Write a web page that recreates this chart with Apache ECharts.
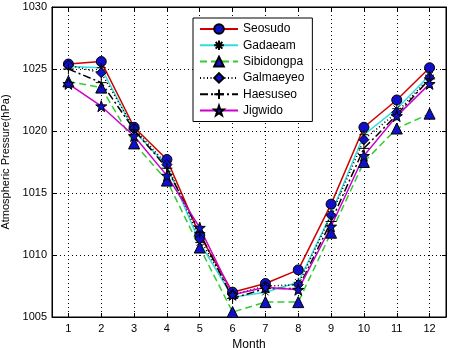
<!DOCTYPE html>
<html><head><meta charset="utf-8">
<script src="https://cdn.jsdelivr.net/npm/echarts@6/dist/echarts.min.js"></script>
<style>html,body{margin:0;padding:0;background:#fff}#c{width:450px;height:348px}</style>
</head><body><div id="c"></div>
<script>
const months = ['1','2','3','4','5','6','7','8','9','10','11','12'];
const yTicks = {min:1005, max:1030, interval:5};
const seosudo    = [1025.4, 1025.6, 1020.3, 1017.7, 1011.6, 1007.0, 1007.7, 1008.8, 1014.1, 1020.3, 1022.5, 1025.1];
const gadaeam    = [1025.2, 1025.1, 1020.0, 1017.2, 1011.0, 1006.6, 1007.0, 1007.8, 1013.3, 1019.7, 1021.8, 1024.5];
const sibidongpa = [1024.0, 1023.5, 1019.0, 1016.0, 1010.6, 1005.4, 1006.2, 1006.2, 1011.8, 1017.5, 1020.2, 1021.4];
const galmaeyeo  = [1025.3, 1024.7, 1020.2, 1017.3, 1011.3, 1006.8, 1007.5, 1007.6, 1013.2, 1019.3, 1021.5, 1024.3];
const haesuseo   = [1025.0, 1023.9, 1020.1, 1017.0, 1011.8, 1006.5, 1007.3, 1007.3, 1012.7, 1018.6, 1021.3, 1024.2];
const jigwido    = [1023.8, 1022.0, 1019.6, 1016.4, 1012.2, 1006.8, 1007.4, 1007.2, 1012.3, 1018.0, 1021.2, 1023.8];

const FONT = 'Liberation Sans, Arial, sans-serif';
const BLUE = '#1010c8';
const STAR = 'path://M0,-10L2.35,-3.24L9.51,-3.09L3.8,1.24L5.88,8.09L0,4L-5.88,8.09L-3.8,1.24L-9.51,-3.09L-2.35,-3.24Z';
const ASTER = 'path://M0,-10L0,10M-10,0L10,0M-7,-7L7,7M-7,7L7,-7';
const PLUS = 'path://M0,-10L0,10M-10,0L10,0';

function mk(name, data, lineColor, lineType, symbol, size, fill, border) {
  return {
    name, type:'line', data, symbol, symbolSize:size, showSymbol:true,
    lineStyle:{color:lineColor, width:1.5, type:lineType},
    itemStyle:{color:fill, borderColor:border, borderWidth:1},
    emphasis:{disabled:true}, animation:false, z:2
  };
}

const chart = echarts.init(document.getElementById('c'), null, {renderer:'canvas'});
chart.setOption({
  backgroundColor:'#fff',
  animation:false,
  textStyle:{fontFamily:FONT},
  grid:{left:52, right:4, top:7, bottom:31, containLabel:false, outerBoundsMode:'none',
        show:true, borderColor:'#000', borderWidth:1, backgroundColor:'#fff'},
  legend:{
    orient:'vertical', left:193, top:18, padding:[5,8,5,6],
    backgroundColor:'#fff', borderColor:'#000', borderWidth:1, borderRadius:0,
    itemWidth:38, itemHeight:12, itemGap:4.3,
    textStyle:{fontFamily:FONT, fontSize:12, color:'#000'},
    data:['Seosudo','Gadaeam','Sibidongpa','Galmaeyeo','Haesuseo','Jigwido']
  },
  xAxis:[{
    type:'category', data:months, boundaryGap:true,
    name:'Month', nameLocation:'middle', nameGap:21,
    nameTextStyle:{fontFamily:FONT, fontSize:12, color:'#000'},
    axisLine:{lineStyle:{color:'#000'}},
    axisTick:{show:true, inside:true, alignWithLabel:true, length:4, lineStyle:{color:'#000'}},
    axisLabel:{color:'#000', fontSize:11, fontFamily:FONT, margin:6},
    splitLine:{show:true, alignWithLabel:true, lineStyle:{color:'#000', type:[1,3], width:1}}
  },{
    type:'category', data:months, boundaryGap:true, position:'top',
    axisLine:{lineStyle:{color:'#000'}},
    axisTick:{show:true, inside:true, alignWithLabel:true, length:4, lineStyle:{color:'#000'}},
    axisLabel:{show:false}, splitLine:{show:false}
  }],
  yAxis:[{
    type:'value', min:yTicks.min, max:yTicks.max, interval:yTicks.interval,
    name:'Atmospheric Pressure(hPa)', nameLocation:'middle', nameGap:32,
    nameTextStyle:{fontFamily:FONT, fontSize:11, color:'#000'},
    axisLine:{show:true, lineStyle:{color:'#000'}},
    axisTick:{show:true, inside:true, length:4, lineStyle:{color:'#000'}},
    axisLabel:{color:'#000', fontSize:11, fontFamily:FONT, margin:5, formatter:(v)=>String(v)},
    splitLine:{show:true, lineStyle:{color:'#000', type:[1,3], width:1}}
  },{
    type:'value', min:yTicks.min, max:yTicks.max, interval:yTicks.interval, position:'right',
    axisLine:{show:true, lineStyle:{color:'#000'}},
    axisTick:{show:true, inside:true, length:4, lineStyle:{color:'#000'}},
    axisLabel:{show:false}, splitLine:{show:false}
  }],
  series:[
    mk('Seosudo', seosudo, '#cc0000', 'solid', 'circle', 10, BLUE, '#000'),
    mk('Gadaeam', gadaeam, '#33dddd', 'solid', ASTER, 9, '#000', '#000'),
    mk('Sibidongpa', sibidongpa, '#33cc33', [7,4], 'triangle', 11, BLUE, '#000'),
    mk('Galmaeyeo', galmaeyeo, '#000', [1,2.5], 'diamond', 10, BLUE, '#000'),
    mk('Haesuseo', haesuseo, '#000', [8,3,2,3], PLUS, 11, '#000', '#000'),
    mk('Jigwido', jigwido, '#cc00cc', 'solid', STAR, 11, BLUE, '#000')
  ]
});
</script></body></html>
